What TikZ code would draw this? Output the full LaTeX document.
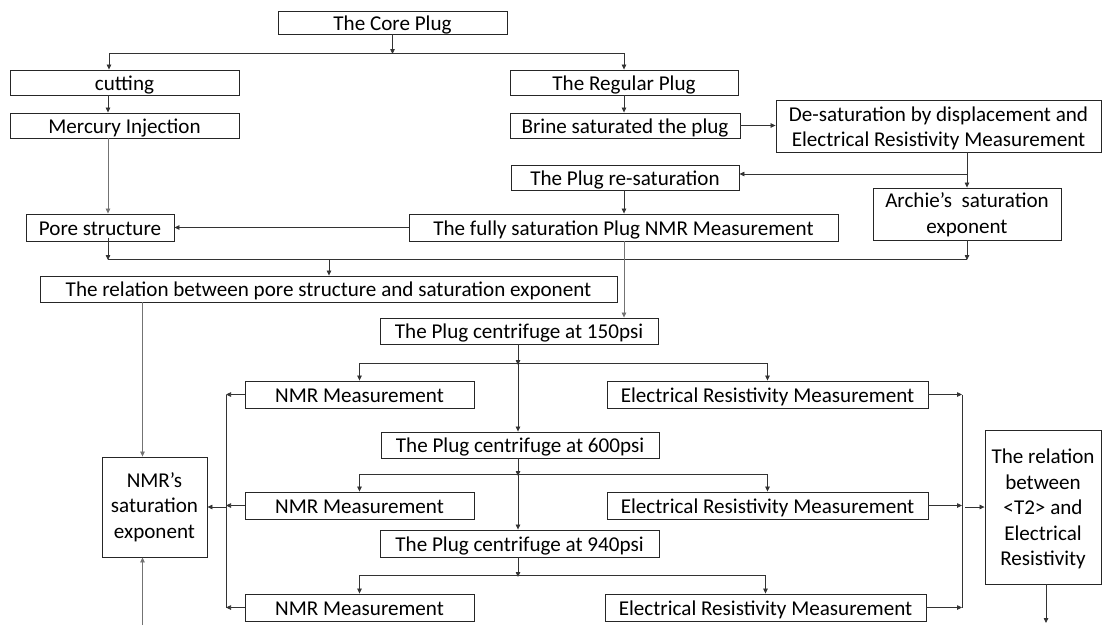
\documentclass[tikz,border=0pt]{standalone}
\usepackage{fontspec}
\setmainfont{Carlito}
\usetikzlibrary{arrows.meta}
\begin{document}
\begin{tikzpicture}[x=1pt,y=-1pt,
  box/.style={draw=black!85, line width=0.9pt, inner sep=0pt, align=center,
    text height=15.5pt, text depth=0pt,
    font=\fontsize{21.1}{25.5}\selectfont},
  conn/.style={draw=black!80, line width=0.75pt},
  arr/.style={conn, -{Triangle[length=5pt,width=4.5pt]}},
  garr/.style={conn, draw=black!55, -{Triangle[length=5pt,width=4.5pt]}}]
\useasboundingbox (0,0) rectangle (1102,625);
% boxes
\node[box, minimum width=229, minimum height=23] (core) at (392.5,22.5) {The Core Plug};
\node[box, minimum width=229, minimum height=25] (cutting) at (124.5,82.5) {cutting};
\node[box, minimum width=229, minimum height=25] (mercury) at (124.5,125.5) {Mercury Injection};
\node[box, minimum width=228, minimum height=25] (regular) at (624,82.5) {The Regular Plug};
\node[box, minimum width=230, minimum height=25] (brine) at (625,125.5) {Brine saturated the plug};
\node[box, minimum width=325, minimum height=52, text height=41pt] (desat) at (938.5,126) {De-saturation by displacement and\\Electrical Resistivity Measurement};
\node[box, minimum width=228, minimum height=25] (resat) at (625,177.5) {The Plug re-saturation};
\node[box, minimum width=188, minimum height=52, text height=38pt] (archie) at (967,214) {Archie’s~ saturation\\exponent};
\node[box, minimum width=148, minimum height=27] (pore) at (100,227.5) {Pore structure};
\node[box, minimum width=429, minimum height=27] (fully) at (623.5,227.5) {The fully saturation Plug NMR Measurement};
\node[box, minimum width=577, minimum height=26] (relation) at (328.5,289) {The relation between pore structure and saturation exponent};
\node[box, minimum width=278, minimum height=26] (c150) at (519,331) {The Plug centrifuge at 150psi};
\node[box, minimum width=229, minimum height=27] (nmr1) at (359.5,394.5) {NMR Measurement};
\node[box, minimum width=321, minimum height=27] (erm1) at (767.5,394.5) {Electrical Resistivity Measurement};
\node[box, minimum width=278, minimum height=26] (c600) at (520,445) {The Plug centrifuge at 600psi};
\node[box, minimum width=229, minimum height=27] (nmr2) at (359.5,505.5) {NMR Measurement};
\node[box, minimum width=321, minimum height=27] (erm2) at (767.5,505.5) {Electrical Resistivity Measurement};
\node[box, minimum width=279, minimum height=27] (c940) at (519.5,543.5) {The Plug centrifuge at 940psi};
\node[box, minimum width=229, minimum height=27] (nmr3) at (359.5,607.5) {NMR Measurement};
\node[box, minimum width=321, minimum height=27] (erm3) at (765.5,607.5) {Electrical Resistivity Measurement};
\node[box, minimum width=105, minimum height=100, text height=62pt] (nmrsat) at (154.5,507) {NMR’s\\saturation\\exponent};
\node[box, minimum width=116, minimum height=154, text height=117pt] (t2) at (1043,507) {The relation\\between\\<T2> and\\Electrical\\Resistivity};
% junction coordinates
\coordinate (h1l) at (109,53);
\coordinate (h1r) at (624,53);
\coordinate (h1c) at (392.5,53);
\coordinate (br) at (967,174);
\coordinate (h2l) at (108,259);
\coordinate (h2r) at (967,259);
\coordinate (h2c) at (329,259);
\coordinate (x1) at (518,363);
\coordinate (x2) at (518,474);
\coordinate (x3) at (518,575);
\coordinate (vl) at (226,507);
\coordinate (vr) at (962,507);
\coordinate (t2end) at (1046,623);
\coordinate (bot) at (142.5,625);
% top part
\draw[arr] (core.south) -- ([yshift=-1]h1c);
\draw[conn] (h1l) -- (h1r);
\draw[arr] (h1l) -- (h1l |- cutting.north);
\draw[arr] (h1r) -- (h1r |- regular.north);
\draw[arr] (cutting.south -| h2l) -- (mercury.north -| h2l);
\draw[garr] (mercury.south -| h2l) -- (pore.north -| h2l);
\draw[arr] (regular.south -| h1r) -- (brine.north -| h1r);
\draw[arr] (brine.east) -- (brine.east -| desat.west);
\draw[arr] (desat.south -| archie.north) -- (archie.north);
\draw[arr] (br) -- (br -| resat.east);
\draw[arr] (resat.south -| h1r) -- (fully.north -| h1r);
\draw[arr] (fully.west) -- (fully.west -| pore.east);
% second horizontal
\draw[arr] ([yshift=3]pore.south -| h2l) -- ([yshift=-1]h2l);
\draw[arr] (archie.south) -- ([yshift=-1]h2r);
\draw[conn] (h2l) -- (h2r);
\draw[arr] (h2c) -- (h2c |- relation.north);
\draw[garr] (fully.south -| h1r) -- (c150.north -| h1r);
\draw[garr] (relation.south -| bot) -- (nmrsat.north -| bot);
% centrifuge chain
\foreach \c/\x/\n/\e/\nx in {c150/x1/nmr1/erm1/c600, c600/x2/nmr2/erm2/c940}{
  \draw[arr] (\c.south -| \x) -- ([yshift=-2]\x);
  \draw[conn] (\x -| \n.north) -- (\x -| \e.north);
  \draw[arr] (\x -| \n.north) -- (\n.north);
  \draw[arr] (\x -| \e.north) -- (\e.north);
  \draw[arr] ([yshift=2]\x) -- (\nx.north -| \x);
}
\draw[arr] (c940.south -| x3) -- ([yshift=-2]x3);
\draw[conn] (x3 -| nmr3.north) -- (x3 -| erm3.north);
\draw[arr] (x3 -| nmr3.north) -- (nmr3.north);
\draw[arr] (x3 -| erm3.north) -- (erm3.north);
% left collector
\draw[arr] (nmr1.west) -- (nmr1.west -| vl);
\draw[arr] (nmr2.west) -- (nmr2.west -| vl);
\draw[arr] (nmr3.west) -- (nmr3.west -| vl);
\draw[conn] (nmr1.west -| vl) -- (nmr3.west -| vl);
\draw[arr] (vl) -- (vl -| nmrsat.east);
% right collector
\draw[arr] (erm1.east) -- (erm1.east -| vr);
\draw[arr] (erm2.east) -- (erm2.east -| vr);
\draw[arr] (erm3.east) -- (erm3.east -| vr);
\draw[conn] (erm1.east -| vr) -- (erm3.east -| vr);
\draw[arr] ([xshift=3]vr) -- (vr -| t2.west);
\draw[arr] (t2.south -| t2end) -- (t2end);
\draw[garr] (bot) -- (nmrsat.south -| bot);
\end{tikzpicture}
\end{document}
